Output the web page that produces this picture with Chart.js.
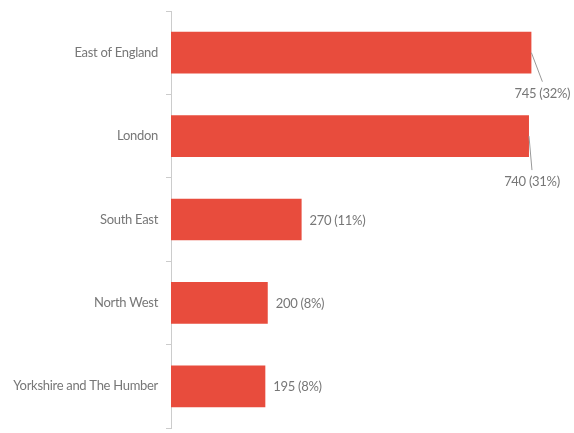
<!DOCTYPE html>
<html>
<head>
<meta charset="utf-8">
<script src="https://cdn.jsdelivr.net/npm/chart.js@4"></script>
<style>
  html, body { margin: 0; padding: 0; background: #ffffff; }
  #wrap { width: 574px; height: 433px; }
</style>
</head>
<body>
<div id="wrap"><canvas id="c" width="574" height="433"></canvas></div>
<script>
const categories = ["East of England", "London", "South East", "North West", "Yorkshire and The Humber"];
const values = [745, 740, 270, 200, 195];
const percents = [32, 31, 11, 8, 8];
// label leader offsets (dx, dy) for labels that would run off the chart; null = place at bar end
const leaderOffsets = [[11, 29], [3, 34], null, null, null];

const FONT = "Lato, 'Open Sans', sans-serif";
const TEXT = '#777777';

const tightText = {
  id: 'tightText',
  beforeDraw(chart) {
    if ('letterSpacing' in chart.ctx) chart.ctx.letterSpacing = '-0.3px';
  }
};

const valueLabels = {
  id: 'valueLabels',
  afterDatasetsDraw(chart) {
    const ctx = chart.ctx;
    const meta = chart.getDatasetMeta(0);
    ctx.save();
    ctx.font = '13px ' + FONT;
    ctx.fillStyle = TEXT;
    ctx.textBaseline = 'middle';
    meta.data.forEach((bar, i) => {
      const txt = values[i] + ' (' + percents[i] + '%)';
      const off = leaderOffsets[i];
      if (off) {
        const x0 = bar.x, y0 = bar.y;
        const x1 = x0 + off[0], y1 = y0 + off[1];
        ctx.strokeStyle = '#999999';
        ctx.lineWidth = 1;
        ctx.beginPath();
        ctx.moveTo(x0, y0);
        ctx.lineTo(x1, y1);
        ctx.stroke();
        ctx.textAlign = 'center';
        ctx.fillText(txt, x1, y1 + 12);
      } else {
        ctx.textAlign = 'left';
        ctx.fillText(txt, bar.x + 8, bar.y + 1);
      }
    });
    ctx.restore();
  }
};

new Chart(document.getElementById('c'), {
  type: 'bar',
  data: {
    labels: categories,
    datasets: [{
      data: values,
      backgroundColor: '#e84c3d',
      borderWidth: 0,
      barPercentage: 0.5,
      categoryPercentage: 1
    }]
  },
  options: {
    indexAxis: 'y',
    responsive: false,
    animation: false,
    devicePixelRatio: 1,
    layout: { padding: { top: 11, bottom: 5, right: 16, left: 0 } },
    plugins: { legend: { display: false }, tooltip: { enabled: false } },
    scales: {
      x: { display: false, min: 0, max: 800 },
      y: {
        afterFit(s) { s.width = 171; s.paddingTop = 0; s.paddingBottom = 0; },
        grid: { drawOnChartArea: false, drawTicks: true, tickLength: 5, color: '#cccccc', offset: true },
        border: { display: true, color: '#cccccc', width: 1 },
        ticks: { color: TEXT, padding: 8, font: { family: FONT, size: 13 } }
      }
    }
  },
  plugins: [tightText, valueLabels]
});
</script>
</body>
</html>
